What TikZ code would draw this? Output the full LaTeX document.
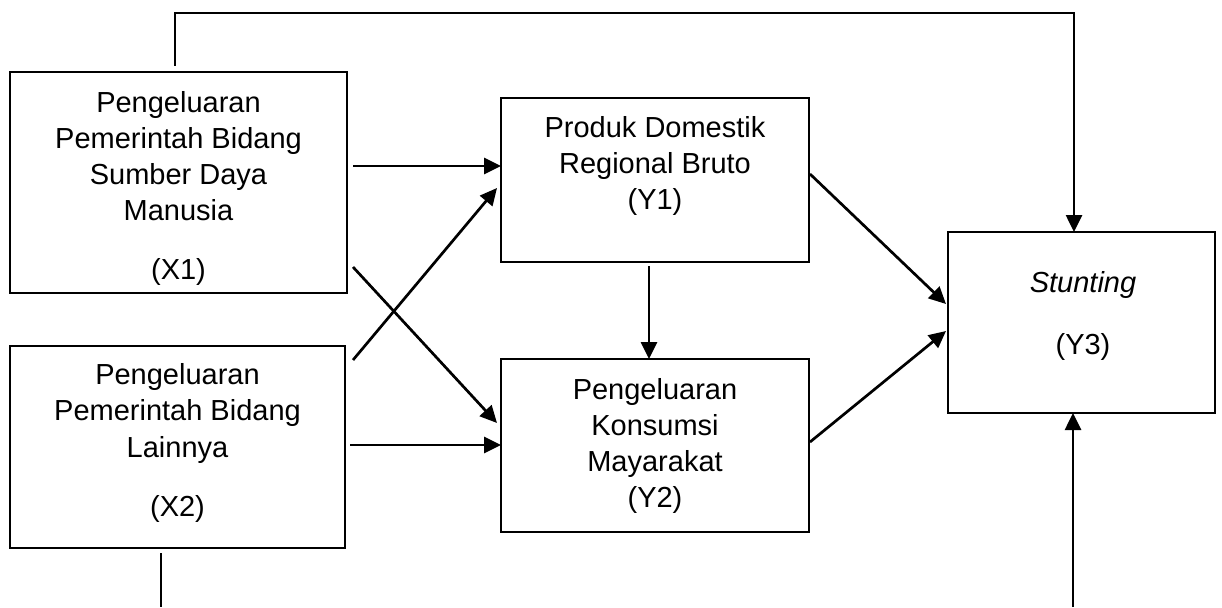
\documentclass[tikz,border=0pt]{standalone}
\usepackage{fontspec}
\setmainfont{Liberation Sans}
\usetikzlibrary{arrows.meta,calc}
\begin{document}
\begin{tikzpicture}[x=1pt,y=-1pt,
  box/.style={draw,line width=2.8pt,rectangle,inner sep=0pt,outer sep=0pt},
  txt/.style={anchor=north,inner sep=0pt,outer sep=0pt,align=center,
    font=\fontsize{29}{35.9}\selectfont},
  ln/.style={line width=2.7pt},
  arr/.style={line width=2.7pt,-{Triangle[length=17pt,width=16pt]}}]
\useasboundingbox[fill=white] (0,0) rectangle (1222,607);
% boxes
\node[box,minimum width=337pt,minimum height=221pt] (x1) at (178.5,182.5) {};
\node[box,minimum width=335pt,minimum height=202pt] (x2) at (177.5,447) {};
\node[box,minimum width=308pt,minimum height=164pt] (y1) at (655,180) {};
\node[box,minimum width=308pt,minimum height=173pt] (y2) at (655,445.5) {};
\node[box,minimum width=267pt,minimum height=181pt] (y3) at (1081.5,322.5) {};
% texts
\node[txt] (x1t) at (178.5,91.5) {Pengeluaran\\Pemerintah Bidang\\Sumber Daya\\Manusia\\[23pt](X1)};
\node[txt,font=\fontsize{29}{36.6}\selectfont] (x2t) at (177.5,363) {Pengeluaran\\Pemerintah Bidang\\Lainnya\\[22.6pt](X2)};
\node[txt,font=\fontsize{29}{35.8}\selectfont] (y1t) at (655,116.5) {Produk Domestik\\Regional Bruto\\(Y1)};
\node[txt,font=\fontsize{29}{36.1}\selectfont] (y2t) at (655,378) {Pengeluaran\\Konsumsi\\Mayarakat\\(Y2)};
\node[txt,font=\fontsize{29}{36}\selectfont] (y3t) at (1083,271.5) {\textit{Stunting}\\[25.6pt](Y3)};
% free ends
\coordinate (topL) at (175,13);
\coordinate (topR) at (1074,13);
\coordinate (botL) at (161,607);
\coordinate (botR) at (1073,607);
% connectors
\draw[arr] ($(x1.north -| topL)+(0,-6)$) -- (topL) -- (topR) -- (y3.north -| topR);
\draw[ln] ($(x2.south -| botL)+(0,5)$) -- (botL);
\draw[arr] (botR) -- (y3.south -| botR);
\draw[arr] ($(x1.north east)+(6,94)$) -- ($(y1.north west)+(0,68)$);
\draw[arr] ($(x2.north east)+(8,14)$) -- ($(y1.north west)+(-4,90)$);
\draw[arr] ($(x1.south east)+(6,-26)$) -- ($(y2.north west)+(-4,64)$);
\draw[arr] ($(x2.east)+(5,-2)$) -- ($(y2.north west)+(0,86)$);
\draw[arr] ($(y1.south)+(-6,4)$) -- ($(y2.north)+(-6,0)$);
\draw[arr] ($(y1.north east)+(1,76)$) -- ($(y3.north west)+(-2,72)$);
\draw[arr] ($(y2.north east)+(1,83)$) -- ($(y3.north west)+(-2,99)$);
\end{tikzpicture}
\end{document}
